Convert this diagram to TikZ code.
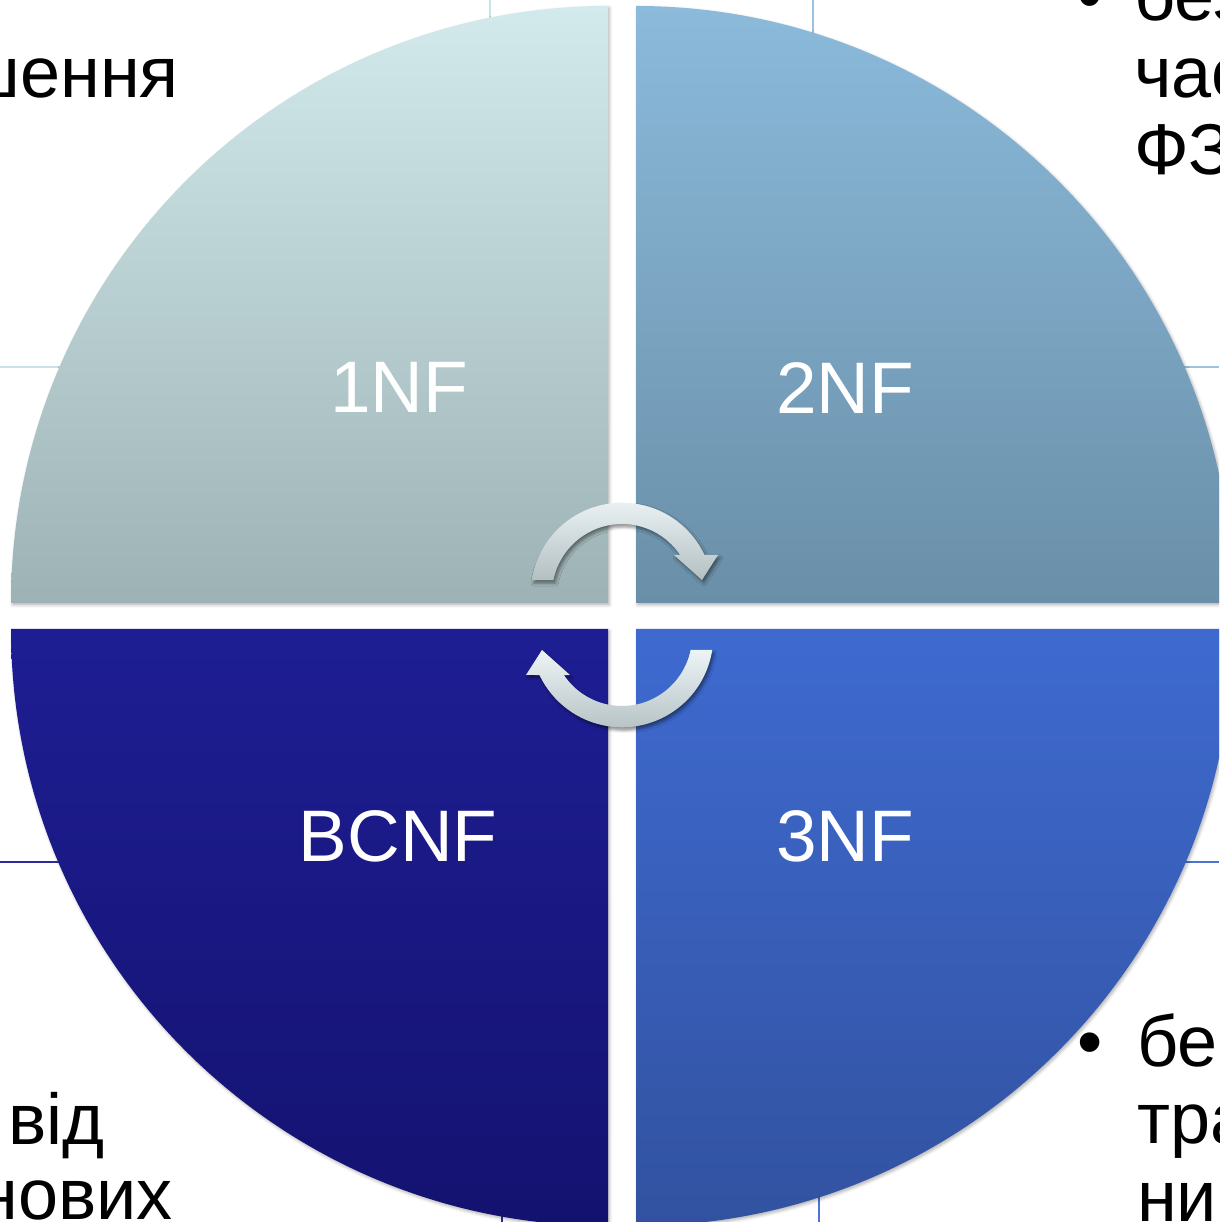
\documentclass[tikz,border=0pt]{standalone}
\usepackage{fontspec}
\setmainfont{Liberation Sans}
\usetikzlibrary{shadows.blur}

% quadrant gradients
\definecolor{tlTop}{HTML}{D2EAEC}
\definecolor{tlBot}{HTML}{9DB2B5}
\definecolor{trTop}{HTML}{8BBADB}
\definecolor{trBot}{HTML}{6A8FA8}
\definecolor{blTop}{HTML}{1E1E94}
\definecolor{blBot}{HTML}{141270}
\definecolor{brTop}{HTML}{3E6AD0}
\definecolor{brBot}{HTML}{3252A0}
% cycle arrows
\definecolor{arrTop}{HTML}{EDF4F6}
\definecolor{arrBot}{HTML}{B3C0C2}
% table rules behind the diagram
\definecolor{ruleA}{HTML}{C9E3E8}
\definecolor{ruleB}{HTML}{9CC2DE}
\definecolor{ruleC}{HTML}{2B2B9C}
\definecolor{ruleD}{HTML}{4C74D4}

\tikzset{
  quad/.style={draw=none,
    blur shadow={shadow xshift=1.5pt,shadow yshift=-2pt,shadow blur radius=3pt,shadow opacity=30}},
  cyc/.style={draw=none, top color=arrTop, bottom color=arrBot,
    blur shadow={shadow xshift=2pt,shadow yshift=-3pt,shadow blur radius=3pt,shadow opacity=45}},
  lbl/.style={text=white, font=\fontsize{73}{80}\selectfont, inner sep=0pt},
  bodytext/.style={text=black, font=\fontsize{72}{79}\selectfont, inner sep=0pt},
  rule/.style={line width=1.5pt}
}

\begin{document}
\begin{tikzpicture}[x=1pt,y=1pt]
\useasboundingbox (0,0) rectangle (1219,1222);
\begin{scope}
\clip (0,0) rectangle (1219,1222);

% rules of the slide table
\draw[rule, ruleA] (0,855) -- (420,855);
\draw[rule, ruleB] (820,855) -- (1219,855);
\draw[rule, ruleC] (0,360) -- (420,360);
\draw[rule, ruleD] (820,360) -- (1219,360);
\draw[rule, ruleA] (490,1222) -- (490,1150);
\draw[rule, ruleB] (813,1222) -- (813,1150);
\draw[rule, ruleC] (502,0) -- (502,80);
\draw[rule, ruleD] (819,0) -- (819,80);

% slide text
\node[bodytext, anchor=base east] (tl1) at (179,1124) {шення};
\node[bodytext, anchor=base] (trb) at (1090,1201) {•};
\node[bodytext, anchor=base west] (tr1) at (1134,1201) {без};
\node[bodytext, anchor=base west] (tr2) at (1134,1124) {час};
\node[bodytext, anchor=base west] (tr3) at (1134,1047) {ФЗ};
\node[bodytext, anchor=base] (brb) at (1090,155) {•};
\node[bodytext, anchor=base west] (br1) at (1137,155) {бе};
\node[bodytext, anchor=base west] (br2) at (1137,78) {тра};
\node[bodytext, anchor=base west] (br3) at (1137,1) {ни};
\node[bodytext, anchor=base west] (bl1) at (8,77) {від};
\node[bodytext, anchor=base east] (bl2) at (173,2) {нових};

% four quadrants
\path[quad, top color=tlTop, bottom color=tlBot]
  (608,619) -- (11,619) arc[start angle=180,end angle=90,radius=597] -- cycle;
\path[quad, top color=trTop, bottom color=trBot]
  (636,619) -- (636,1216) arc[start angle=90,end angle=0,radius=597] -- cycle;
\path[quad, top color=blTop, bottom color=blBot]
  (608,593) -- (11,593) arc[start angle=180,end angle=270,radius=597] -- cycle;
\path[quad, top color=brTop, bottom color=brBot]
  (636,593) -- (1233,593) arc[start angle=0,end angle=-90,radius=597] -- cycle;

% labels
\node[lbl] (nf1) at (399,835) {1NF};
\node[lbl] (nf2) at (845,834) {2NF};
\node[lbl] (bcnf) at (398,386) {BCNF};
\node[lbl] (nf3) at (845,386) {3NF};

% cycle arrows
\begin{scope}[shift={(622,628)}]
  \path[cyc] (171.2:91.3) arc[start angle=171.2,end angle=25.3,radius=91.3]
    -- (96,39) -- (80,14) -- (52,39)
    -- (33.9:70) arc[start angle=33.9,end angle=168.5,radius=70] -- cycle;
\end{scope}
\begin{scope}[shift={(622,586)}]
  \path[cyc] (351.2:91.3) arc[start angle=351.2,end angle=205.3,radius=91.3]
    -- (-96,-39) -- (-80,-14) -- (-52,-39)
    -- (213.9:70) arc[start angle=213.9,end angle=348.5,radius=70] -- cycle;
\end{scope}

\end{scope}
\end{tikzpicture}
\end{document}
